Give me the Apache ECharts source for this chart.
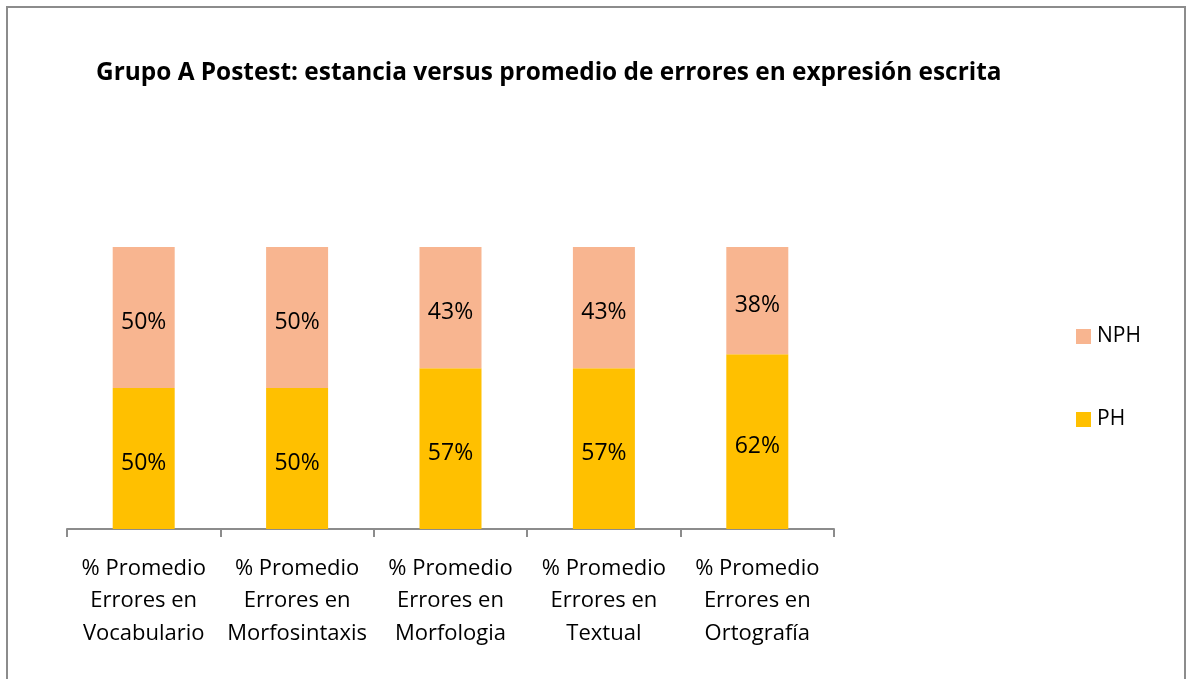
<!DOCTYPE html>
<html>
<head>
<meta charset="utf-8">
<script src="https://cdn.jsdelivr.net/npm/echarts@6/dist/echarts.min.js"></script>
<style>
  html, body { margin: 0; padding: 0; background: #fff; }
  #chart { width: 1187px; height: 679px; }
</style>
</head>
<body>
<div id="chart"></div>
<script>
// Categories and stacked percentages per group
const categories = [
  '% Promedio\nErrores en\nVocabulario',
  '% Promedio\nErrores en\nMorfosintaxis',
  '% Promedio\nErrores en\nMorfologia',
  '% Promedio\nErrores en\nTextual',
  '% Promedio\nErrores en\nOrtografía'
];
const phValues = [50, 50, 57, 57, 62];
const nphValues = [50, 50, 43, 43, 38];

const FONT = "'Open Sans', 'Liberation Sans', sans-serif";

const chart = echarts.init(document.getElementById('chart'));
chart.setOption({
  animation: false,
  backgroundColor: '#ffffff',
  graphic: [{
    type: 'polyline',
    shape: { points: [[7, 690], [7, 7], [1185, 7], [1185, 690]] },
    style: { stroke: '#8c8c8c', lineWidth: 2, fill: null }
  }],
  title: {
    text: 'Grupo A Postest: estancia versus promedio de errores en expresión escrita',
    left: 91,
    top: 56,
    textStyle: { fontFamily: FONT, fontSize: 24.4, fontWeight: 'bold', color: '#000' }
  },
  legend: {
    orient: 'vertical',
    left: 1071,
    top: 321,
    icon: 'rect',
    itemWidth: 15,
    itemHeight: 15,
    itemGap: 62,
    data: ['NPH', 'PH'],
    textStyle: { fontFamily: FONT, fontSize: 21, color: '#000', padding: [0, 0, 0, 1] }
  },
  grid: { left: 67, right: 353, top: 247, bottom: 150, containLabel: false },
  xAxis: {
    type: 'category',
    data: categories,
    axisLine: { lineStyle: { color: '#8c8c8c', width: 2 } },
    axisTick: { show: true, length: 8, lineStyle: { color: '#8c8c8c', width: 2 } },
    axisLabel: {
      interval: 0,
      margin: 23,
      fontFamily: FONT,
      fontSize: 22,
      lineHeight: 32.5,
      color: '#000'
    }
  },
  yAxis: {
    type: 'value',
    min: 0,
    max: 100,
    show: false
  },
  series: [
    {
      name: 'PH',
      type: 'bar',
      stack: 'total',
      barWidth: 62,
      data: phValues,
      itemStyle: { color: '#ffc000' },
      label: {
        show: true, position: 'inside', formatter: '{c}%', offset: [0, 5],
        fontFamily: FONT, fontSize: 23, color: '#000'
      }
    },
    {
      name: 'NPH',
      type: 'bar',
      stack: 'total',
      barWidth: 62,
      data: nphValues,
      itemStyle: { color: '#f8b590' },
      label: {
        show: true, position: 'inside', formatter: '{c}%', offset: [0, 5],
        fontFamily: FONT, fontSize: 23, color: '#000'
      }
    }
  ]
});
</script>
</body>
</html>
